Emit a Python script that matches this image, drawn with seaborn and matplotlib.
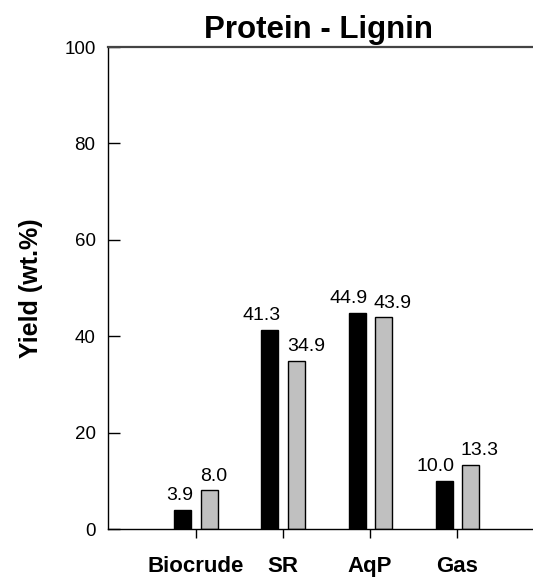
import matplotlib
matplotlib.use("Agg")
import matplotlib.pyplot as plt
import seaborn as sns
import pandas as pd

# Yields of the product fractions for the protein - lignin mixture
categories = ["Biocrude", "SR", "AqP", "Gas"]
set_1 = [3.9, 41.3, 44.9, 10.0]
set_2 = [8.0, 34.9, 43.9, 13.3]
series_names = ["set_1", "set_2"]
y_ticks = [0, 20, 40, 60, 80, 100]

df = pd.DataFrame({
    "category": categories * 2,
    "yield": set_1 + set_2,
    "series": [series_names[0]] * len(categories) + [series_names[1]] * len(categories),
})

sns.set_style("ticks")
plt.rcParams["font.family"] = ["Liberation Sans", "DejaVu Sans"]
plt.rcParams.update({
    "text.color": "black",
    "axes.labelcolor": "black",
    "xtick.color": "black",
    "ytick.color": "black",
})

W, H = 533, 577
fig = plt.figure(figsize=(W / 100, H / 100), dpi=100)
ax = fig.add_axes([108 / W, 48 / H, 1 - 108 / W, (529 - 47) / H])

sns.barplot(
    data=df, x="category", y="yield", hue="series", order=categories,
    hue_order=series_names, palette=["black", "#c0c0c0"], saturation=1,
    width=0.6, gap=0.35, edgecolor="black", linewidth=1.0,
    legend=False, ax=ax,
)

ax.set_xlim(-1.01, 3.87)
ax.set_ylim(0, 100)
ax.set_yticks(y_ticks)
ax.set_xlabel("")
ax.set_ylabel("Yield (wt.%)", fontsize=18, fontweight="bold", color="black")
ax.yaxis.set_label_coords(-0.153, 0.5)

ax.set_title("Protein - Lignin", fontsize=22.5, fontweight="bold", pad=6.5,
             x=0.496, color="black")

# Spines: black left/bottom, grey top line, no right line
for side in ("left", "bottom"):
    ax.spines[side].set_color("black")
    ax.spines[side].set_linewidth(1.0)
ax.spines["top"].set_visible(True)
ax.spines["top"].set_color("#444444")
ax.spines["top"].set_linewidth(1.6)
ax.spines["right"].set_visible(False)

ax.tick_params(axis="y", direction="in", length=8.5, width=1.0, pad=9,
               labelsize=13.5, colors="black", right=False, left=True)
ax.tick_params(axis="x", direction="out", length=6.5, width=1.0, pad=13,
               labelsize=16, colors="black", top=False, bottom=True)
for lbl in ax.get_xticklabels():
    lbl.set_fontweight("bold")

# Value labels: first series flush right with its bar, second flush left
for idx, container in enumerate(ax.containers):
    for bar in container:
        val = bar.get_height()
        if idx == 0:
            xpos, ha = bar.get_x() + bar.get_width() + 0.02, "right"
        else:
            xpos, ha = bar.get_x() - 0.01, "left"
        ax.annotate(f"{val:.1f}", xy=(xpos, val), xytext=(0, 7),
                    textcoords="offset points", ha=ha, va="baseline",
                    fontsize=14, color="black")

fig.savefig("out.png", dpi=100)
